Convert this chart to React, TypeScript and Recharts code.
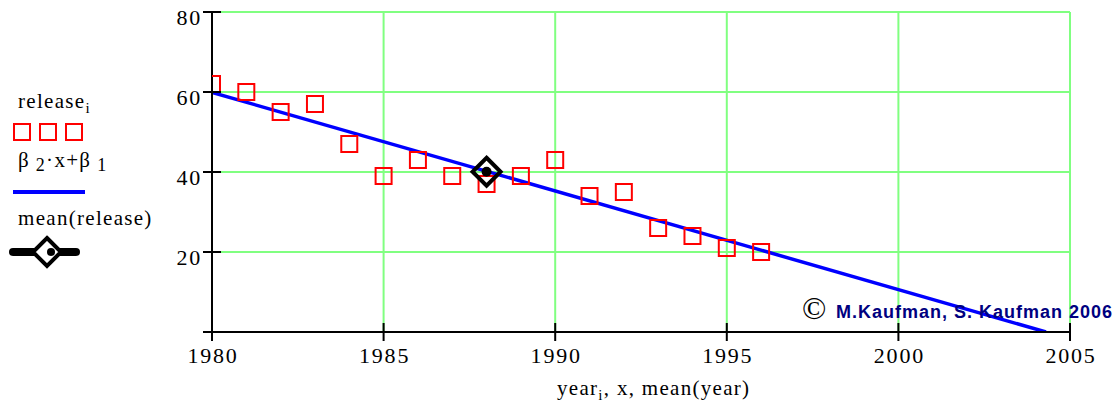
import { ComposedChart, XAxis, YAxis, CartesianGrid, Scatter, Line } from 'recharts';

const years = [1980, 1981, 1982, 1983, 1984, 1985, 1986, 1987, 1988, 1989, 1990, 1991, 1992, 1993, 1994, 1995, 1996];
const release = [62, 60, 55, 57, 47, 39, 43, 39, 37, 39, 43, 34, 35, 26, 24, 21, 20];
const fitX = [1980, 2004.3];
const fitY = [59.9, 0];
const meanYear = [1988];
const meanRelease = [40.06];
const xTicks = [1980, 1985, 1990, 1995, 2000, 2005];
const yTicks = [0, 20, 40, 60, 80];

const points = years.map((x, i) => ({ x, y: release[i] }));
const fit = fitX.map((x, i) => ({ x, y: fitY[i] }));
const mean = meanYear.map((x, i) => ({ x, y: meanRelease[i] }));

const SERIF = '"Liberation Serif", "Times New Roman", serif';

const XTick = ({ x, y, payload }: any) => (
  <g>
    <line x1={x} x2={x} y1={y - 9} y2={y + 9} stroke="#000" strokeWidth={2} />
    <text x={x + 1} y={y + 31} textAnchor="middle" fontFamily={SERIF} fontSize={22} letterSpacing={1.8} fill="#000">
      {payload.value}
    </text>
  </g>
);

const YTick = ({ x, y, payload }: any) => (
  <g>
    <line x1={x - 9} x2={x + 9} y1={y} y2={y} stroke="#000" strokeWidth={2} />
    {payload.value !== 0 && (
      <text x={x - 10} y={y + 13} textAnchor="end" fontFamily={SERIF} fontSize={22} letterSpacing={1.8} fill="#000">
        {payload.value}
      </text>
    )}
  </g>
);

const Square = ({ cx, cy }: any) => (
  <rect x={cx - 8} y={cy - 8} width={16} height={16} fill="none" stroke="#ff0000" strokeWidth={2} />
);

const Diamond = ({ cx, cy }: any) => (
  <g>
    <polygon
      points={`${cx},${cy - 14} ${cx + 14},${cy} ${cx},${cy + 14} ${cx - 14},${cy}`}
      fill="none"
      stroke="#000"
      strokeWidth={4}
    />
    <circle cx={cx} cy={cy} r={5} fill="#000" />
  </g>
);

export default function App() {
  return (
    <div style={{ position: 'absolute', left: 0, top: 0, width: 1120, height: 409, background: '#fff' }}>
      <ComposedChart width={1120} height={409} margin={{ top: 12, right: 50, bottom: 37, left: 152 }}>
        <CartesianGrid stroke="#80ff80" strokeWidth={2} />
        <XAxis
          type="number"
          dataKey="x"
          domain={[1980, 2005]}
          ticks={xTicks}
          allowDataOverflow
          height={40}
          axisLine={{ stroke: '#000', strokeWidth: 2 }}
          tickLine={false}
          tickSize={0}
          tickMargin={0}
          tick={<XTick />}
        />
        <YAxis
          type="number"
          dataKey="y"
          domain={[0, 80]}
          ticks={yTicks}
          allowDataOverflow
          width={60}
          axisLine={{ stroke: '#000', strokeWidth: 2 }}
          tickLine={false}
          tickSize={0}
          tickMargin={0}
          tick={<YTick />}
        />
        <Scatter data={points} dataKey="y" shape={<Square />} isAnimationActive={false} />
        <Line data={fit} dataKey="y" type="linear" stroke="#0000ff" strokeWidth={3.5} dot={false} activeDot={false} isAnimationActive={false} />
        <Scatter data={mean} dataKey="y" shape={<Diamond />} isAnimationActive={false} />
      </ComposedChart>

      <svg width={1120} height={409} style={{ position: 'absolute', left: 0, top: 0, pointerEvents: 'none' }}>
        <g fontFamily={SERIF} fontSize={21} letterSpacing={1.3} fill="#000">
          <text x={18} y={108}>
            release<tspan fontSize={15} dy={5}>i</tspan>
          </text>
          <text x={18} y={167}>
            β<tspan fontSize={18} dy={4}> 2</tspan>
            <tspan dy={-4}>·x+β</tspan>
            <tspan fontSize={18} dy={4}> 1</tspan>
          </text>
          <text x={18} y={225}>mean(release)</text>
          <text x={557} y={395}>
            year<tspan fontSize={15} dy={5}>i</tspan>
            <tspan dy={-5}>, x, mean(year)</tspan>
          </text>
        </g>
        <rect x={14} y={124} width={16} height={16} fill="none" stroke="#ff0000" strokeWidth={2} />
        <rect x={40} y={124} width={16} height={16} fill="none" stroke="#ff0000" strokeWidth={2} />
        <rect x={66} y={124} width={16} height={16} fill="none" stroke="#ff0000" strokeWidth={2} />
        <line x1={13} x2={85} y1={192} y2={192} stroke="#0000ff" strokeWidth={4} />
        <line x1={13} x2={76} y1={252} y2={252} stroke="#000" strokeWidth={8} strokeLinecap="round" />
        <polygon points="47,238 61,252 47,266 33,252" fill="#fff" stroke="#000" strokeWidth={4} />
        <circle cx={51} cy={252} r={4} fill="#000" />
        <text x={802} y={319} fontFamily={SERIF} fontSize={32} fill="#000">©</text>
        <text x={836} y={318} fontFamily='"Liberation Sans", Arial, sans-serif' fontWeight="bold" fontSize={18} letterSpacing={1} fill="#000080">
          M.Kaufman, S. Kaufman 2006
        </text>
      </svg>
    </div>
  );
}
